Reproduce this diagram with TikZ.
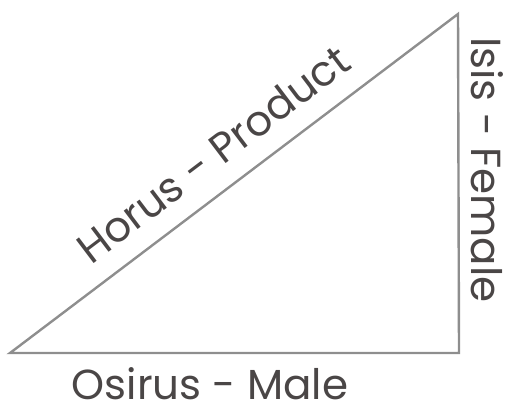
\documentclass[tikz,border=0pt]{standalone}
\usepackage{fontspec}
\setmainfont{Poppins}
\definecolor{edgegray}{HTML}{8E8E8E}
\definecolor{textgray}{HTML}{4A4646}
\begin{document}
\begin{tikzpicture}[x=1pt,y=-1pt,
  lbl/.style={text=textgray,font=\fontsize{42}{42}\selectfont, inner sep=0pt},
  edge/.style={draw=edgegray,line width=2.4pt,line join=miter}]
\useasboundingbox (0,0) rectangle (510,410);
\coordinate (bl) at (10,353);
\coordinate (br) at (459,353);
\coordinate (tr) at (458,14);
\draw[edge] (bl) -- (br) -- (tr) -- cycle;
\node[lbl] (osiris) at (210,384) {Osirus - Male};
\node[lbl,rotate=-90] (isis) at (487,170) {Isis - Female};
\node[lbl,rotate=37.1] (horus) at (213,154) {Horus - Product};
\end{tikzpicture}
\end{document}
